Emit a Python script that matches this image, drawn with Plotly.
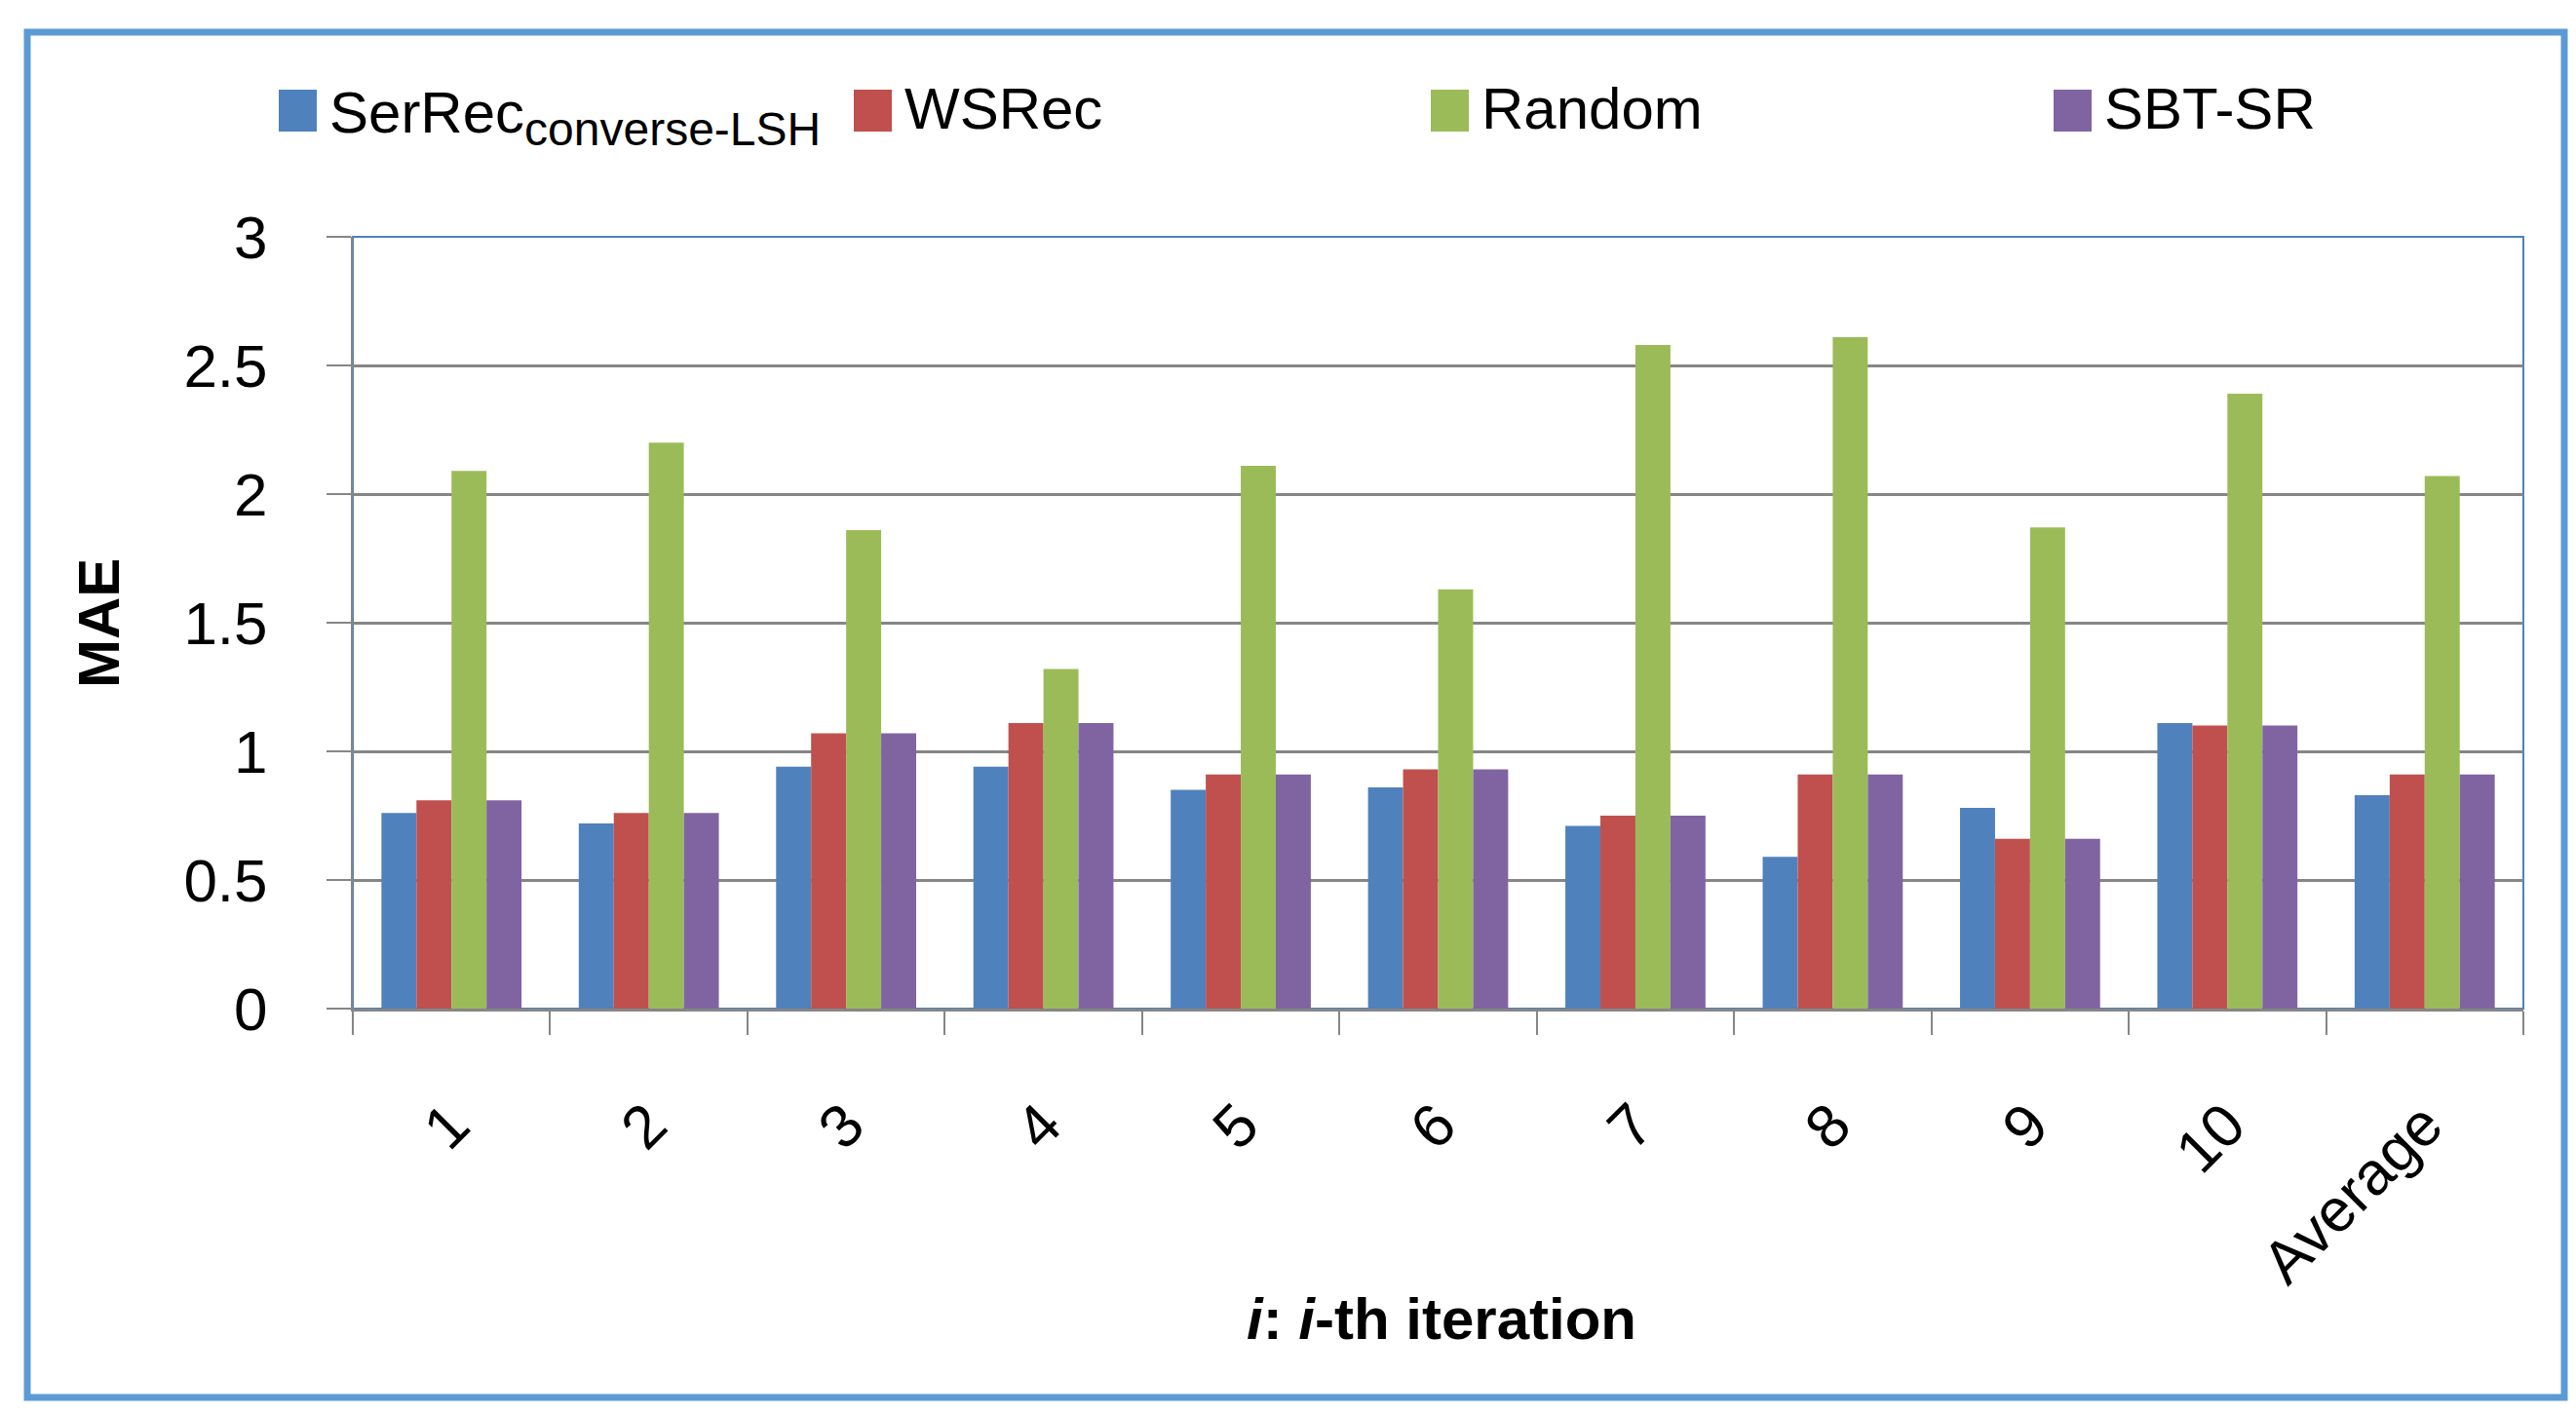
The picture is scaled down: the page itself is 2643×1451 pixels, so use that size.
import plotly.graph_objects as go

# MAE per iteration for the four recommenders
iterations = ["1", "2", "3", "4", "5", "6", "7", "8", "9", "10", "Average"]

serrec_lsh = [0.76, 0.72, 0.94, 0.94, 0.85, 0.86, 0.71, 0.59, 0.78, 1.11, 0.83]
wsrec = [0.81, 0.76, 1.07, 1.11, 0.91, 0.93, 0.75, 0.91, 0.66, 1.10, 0.91]
random_mae = [2.09, 2.20, 1.86, 1.32, 2.11, 1.63, 2.58, 2.61, 1.87, 2.39, 2.07]
sbt_sr = [0.81, 0.76, 1.07, 1.11, 0.91, 0.93, 0.75, 0.91, 0.66, 1.10, 0.91]

series_names = ["SerRec<sub><span style='font-size:48px'>converse-LSH</span></sub>",
                "WSRec", "Random", "SBT-SR"]
series_values = [serrec_lsh, wsrec, random_mae, sbt_sr]
colors = ["#4F81BD", "#C0504D", "#9BBB59", "#8064A2"]

W, H = 2643, 1451
L, R, T, B = 354, 2581, 235, 1027  # plot area in pixels


def px_x(px):
    return (px - L) / (R - L)


def px_y(py):
    return (B - py) / (B - T)


fig = go.Figure()
for name, vals, col in zip(series_names, series_values, colors):
    fig.add_trace(go.Bar(
        x=iterations, y=vals, name=name,
        marker=dict(color=col, line=dict(width=0)),
        showlegend=False,
    ))

font = "Liberation Sans, Arial, sans-serif"

# legend built by hand so the swatches can be as big as in the original
legend_x = [278, 868, 1460, 2099]
shapes = []
annotations = []
for lx, name, col in zip(legend_x, series_names, colors):
    shapes.append(dict(
        type="rect", xref="paper", yref="paper",
        x0=px_x(lx), x1=px_x(lx + 39), y0=px_y(127), y1=px_y(84),
        fillcolor=col, line=dict(width=0), layer="above",
    ))
    annotations.append(dict(
        text=name, xref="paper", yref="paper",
        x=px_x(lx + 50), y=px_y(104) if "sub" not in name else px_y(112),
        xanchor="left", yanchor="middle", showarrow=False,
        font=dict(family=font, size=60, color="black"),
    ))

# plot area frame (blue top/right) and outer chart border
shapes.append(dict(type="rect", xref="paper", yref="paper", x0=0, x1=1, y0=0, y1=1,
                   line=dict(color="#4F81BD", width=2), layer="below"))
shapes.append(dict(type="rect", xref="paper", yref="paper",
                   x0=px_x(20), x1=px_x(2623), y0=px_y(1426), y1=px_y(25),
                   line=dict(color="#5B9BD5", width=7), layer="below"))

annotations.append(dict(
    text="<b><i>i</i>: <i>i</i>-th iteration</b>", xref="paper", yref="paper",
    x=px_x(1471), y=px_y(1345), xanchor="center", yanchor="middle",
    showarrow=False, font=dict(family=font, size=60, color="black"),
))
annotations.append(dict(
    text="<b>MAE</b>", xref="paper", yref="paper", textangle=-90,
    x=px_x(93), y=px_y(632), xanchor="center", yanchor="middle",
    showarrow=False, font=dict(family=font, size=60, color="black"),
))

fig.update_layout(
    width=W, height=H,
    margin=dict(l=L, r=W - R, t=T, b=H - B, autoexpand=False),
    paper_bgcolor="white",
    plot_bgcolor="white",
    barmode="group",
    bargap=0.29,
    bargroupgap=0,
    font=dict(family=font, size=62, color="black"),
    shapes=shapes,
    annotations=annotations,
)

fig.update_xaxes(
    type="category",
    showline=True, linecolor="#868686", linewidth=3,
    ticks="outside", tickson="boundaries", ticklen=24, tickcolor="#868686", tickwidth=2,
    tickangle=-45, ticklabelstandoff=55,
    tickfont=dict(family=font, size=62, color="black"),
    showgrid=False,
)
fig.update_yaxes(
    range=[0, 3], dtick=0.5,
    showline=True, linecolor="#868686", linewidth=2,
    ticks="outside", ticklen=25, tickcolor="#868686", tickwidth=2,
    ticklabelstandoff=48,
    tickfont=dict(family=font, size=62, color="black"),
    showgrid=True, gridcolor="#868686", gridwidth=2.5,
    zeroline=False,
)

fig.write_html("out.html")
